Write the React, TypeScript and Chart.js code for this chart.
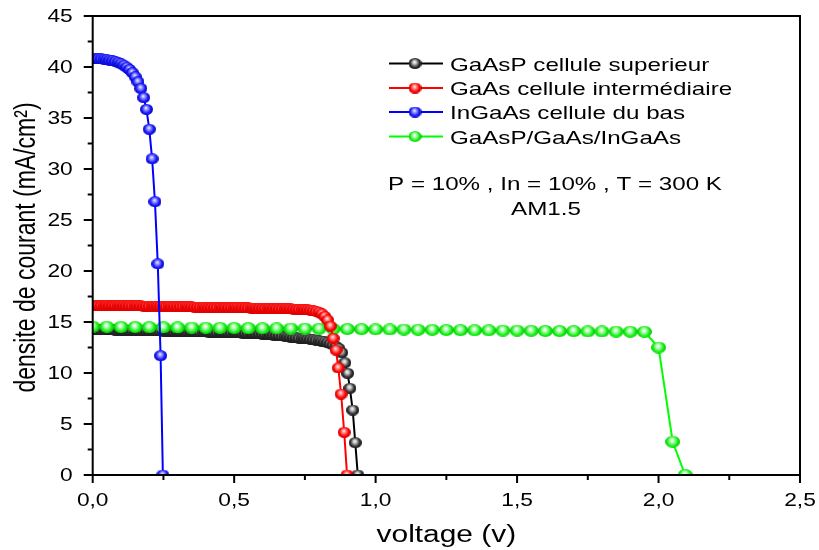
import { useEffect, useRef } from 'react';
import { Chart, registerables } from 'chart.js';

Chart.register(...registerables);

// Voltage sweep grid of the dense cell curves (V) and of the tandem curve.
const SWEEP_STEP = 0.01;
const TANDEM_STEP = 0.05;

// GaAsP top cell: current density (mA/cm²) from 0 V in 0.01 V steps, then the knee.
const gaaspFlat = [
  14.25, 14.25, 14.24, 14.24, 14.23, 14.23, 14.22, 14.22, 14.21, 14.21,
  14.2, 14.19, 14.19, 14.18, 14.18, 14.17, 14.16, 14.16, 14.15, 14.15,
  14.14, 14.13, 14.13, 14.12, 14.12, 14.11, 14.1, 14.1, 14.09, 14.09,
  14.08, 14.07, 14.07, 14.06, 14.06, 14.05, 14.04, 14.04, 14.03, 14.03,
  14.02, 14.01, 14.01, 14.0, 13.99, 13.99, 13.98, 13.97, 13.96, 13.96,
  13.95, 13.94, 13.93, 13.92, 13.91, 13.9, 13.88, 13.87, 13.85, 13.84,
  13.82, 13.8, 13.78, 13.75, 13.72, 13.69, 13.66, 13.63, 13.59, 13.56,
  13.52, 13.49, 13.46, 13.43, 13.4, 13.37, 13.34, 13.31, 13.27, 13.23,
  13.18, 13.12, 13.05, 12.97, 12.88, 12.76, 12.6, 12.4,
];
const gaaspTailV = [0.88, 0.891, 0.901, 0.909, 0.919, 0.928, 0.937];
const gaaspTailJ = [12.0, 11.0, 9.97, 8.5, 6.37, 3.17, 0];

// GaAs middle cell.
const gaasFlat = [
  16.65, 16.65, 16.64, 16.64, 16.63, 16.63, 16.62, 16.62, 16.61, 16.61,
  16.6, 16.6, 16.59, 16.59, 16.58, 16.58, 16.57, 16.57, 16.56, 16.56,
  16.55, 16.55, 16.54, 16.54, 16.53, 16.53, 16.52, 16.52, 16.51, 16.51,
  16.5, 16.5, 16.49, 16.49, 16.48, 16.48, 16.47, 16.47, 16.46, 16.46,
  16.45, 16.45, 16.44, 16.44, 16.43, 16.43, 16.42, 16.42, 16.41, 16.41,
  16.4, 16.4, 16.39, 16.39, 16.38, 16.38, 16.37, 16.37, 16.36, 16.36,
  16.35, 16.34, 16.34, 16.33, 16.33, 16.32, 16.31, 16.31, 16.3, 16.29,
  16.28, 16.27, 16.26, 16.25, 16.24, 16.22, 16.2, 16.17, 16.12, 16.05,
  15.95, 15.8, 15.55, 15.2, 14.6,
];
const gaasTailV = [0.85, 0.86, 0.868, 0.878, 0.889, 0.899];
const gaasTailJ = [13.4, 12.25, 10.5, 7.94, 4.19, 0];

// InGaAs bottom cell.
const ingaasFlat = [
  40.85, 40.84, 40.82, 40.8, 40.77, 40.73, 40.68, 40.62, 40.55, 40.45,
  40.32, 40.17, 39.98, 39.75, 39.45, 39.05, 38.55, 37.9, 37.0, 35.85,
  33.9, 31.0, 26.8, 20.7, 11.7,
];
const ingaasTailV = [0.248];
const ingaasTailJ = [0];

// GaAsP/GaAs/InGaAs tandem, 0.05 V steps.
const tandemFlat = [
  14.55, 14.54, 14.52, 14.51, 14.5, 14.48, 14.47, 14.46, 14.44, 14.43,
  14.42, 14.4, 14.39, 14.38, 14.36, 14.35, 14.34, 14.32, 14.31, 14.3,
  14.28, 14.27, 14.26, 14.24, 14.23, 14.22, 14.2, 14.19, 14.18, 14.16,
  14.15, 14.14, 14.12, 14.11, 14.1, 14.08, 14.07, 14.06, 14.05, 14.04,
];
const tandemTailV = [2.0, 2.05, 2.094];
const tandemTailJ = [12.5, 3.26, 0];

const SERIES_LABELS = [
  'GaAsP cellule superieur',
  'GaAs cellule intermédiaire',
  'InGaAs cellule du bas',
  'GaAsP/GaAs/InGaAs',
];

const X_TICKS = [0, 0.5, 1, 1.5, 2, 2.5];
const X_TICK_LABELS = ['0,0', '0,5', '1,0', '1,5', '2,0', '2,5'];
const Y_TICKS = [0, 5, 10, 15, 20, 25, 30, 35, 40, 45];
const Y_TICK_LABELS = ['0', '5', '10', '15', '20', '25', '30', '35', '40', '45'];

const X_TITLE = 'voltage (v)';
const Y_TITLE = 'densite de courant (mA/cm²)';
const NOTE_LINES = ['P = 10% , In = 10% , T = 300 K', 'AM1.5'];

const FONT = '"Liberation Sans", Arial, sans-serif';
const STRETCH = 1.3;

function sweep(values: number[], step: number, tailV: number[], tailJ: number[]) {
  const pts = values.map((y, i) => ({ x: Math.round(i * step * 1000) / 1000, y }));
  tailV.forEach((x, i) => pts.push({ x, y: tailJ[i] }));
  return pts;
}

function makeBall(w: number, h: number, light: string, base: string, dark: string) {
  const c = document.createElement('canvas');
  c.width = w;
  c.height = h;
  const g = c.getContext('2d')!;
  const grad = g.createRadialGradient(w * 0.46, h * 0.36, 0, w * 0.5, h * 0.5, w * 0.58);
  grad.addColorStop(0, '#ffffff');
  grad.addColorStop(0.2, light);
  grad.addColorStop(0.6, base);
  grad.addColorStop(1, dark);
  g.fillStyle = grad;
  g.beginPath();
  g.ellipse(w / 2, h / 2, w / 2, h / 2, 0, 0, Math.PI * 2);
  g.fill();
  return c;
}

function text(
  ctx: CanvasRenderingContext2D,
  s: string,
  x: number,
  y: number,
  size: number,
  align: CanvasTextAlign,
  rotate = false,
) {
  ctx.save();
  ctx.translate(x, y);
  ctx.scale(STRETCH, 1);
  if (rotate) ctx.rotate(-Math.PI / 2);
  ctx.font = `${size}px ${FONT}`;
  ctx.textAlign = align;
  ctx.textBaseline = 'alphabetic';
  ctx.fillStyle = '#000';
  ctx.fillText(s, 0, 0);
  ctx.restore();
}

export default function App() {
  const ref = useRef<HTMLCanvasElement>(null);

  useEffect(() => {
    if (!ref.current) return;

    const colors = [
      { line: '#000000', ball: makeBall(13, 11, '#d0d0d0', '#303030', '#000000') },
      { line: '#ff0000', ball: makeBall(13, 11, '#ffa0a0', '#ff0000', '#a00000') },
      { line: '#0000ff', ball: makeBall(13, 11, '#a8a8ff', '#1414ff', '#000090') },
      { line: '#00ff00', ball: makeBall(15, 12, '#c8ffc8', '#14f014', '#00a800') },
    ];

    const seriesData = [
      sweep(gaaspFlat, SWEEP_STEP, gaaspTailV, gaaspTailJ),
      sweep(gaasFlat, SWEEP_STEP, gaasTailV, gaasTailJ),
      sweep(ingaasFlat, SWEEP_STEP, ingaasTailV, ingaasTailJ),
      sweep(tandemFlat, TANDEM_STEP, tandemTailV, tandemTailJ),
    ];
    // Stacking: InGaAs on top, then GaAs, tandem, GaAsP at the bottom.
    const stacking = [3, 1, 0, 2];

    const decorations = {
      id: 'decorations',
      afterDraw(chart: any) {
        const ctx: CanvasRenderingContext2D = chart.ctx;
        const { left, right, top, bottom } = chart.chartArea;
        const xs = chart.scales.x;
        const ys = chart.scales.y;
        ctx.save();
        ctx.strokeStyle = '#000';
        ctx.lineWidth = 2;
        ctx.lineCap = 'butt';

        // minor + major ticks, pointing outward
        for (let i = 0; i < Y_TICKS.length; i++) {
          const v = Y_TICKS[i];
          const py = ys.getPixelForValue(v);
          ctx.beginPath();
          ctx.moveTo(left - 9, py);
          ctx.lineTo(left, py);
          ctx.stroke();
          if (i < Y_TICKS.length - 1) {
            const pm = ys.getPixelForValue((v + Y_TICKS[i + 1]) / 2);
            ctx.beginPath();
            ctx.moveTo(left - 5, pm);
            ctx.lineTo(left, pm);
            ctx.stroke();
          }
          text(ctx, Y_TICK_LABELS[i], left - 20, py + 6.3, 17.5, 'right');
        }
        for (let i = 0; i < X_TICKS.length; i++) {
          const v = X_TICKS[i];
          const px = xs.getPixelForValue(v);
          ctx.beginPath();
          ctx.moveTo(px, bottom);
          ctx.lineTo(px, bottom + 8);
          ctx.stroke();
          if (i < X_TICKS.length - 1) {
            const pm = xs.getPixelForValue((v + X_TICKS[i + 1]) / 2);
            ctx.beginPath();
            ctx.moveTo(pm, bottom);
            ctx.lineTo(pm, bottom + 5);
            ctx.stroke();
          }
          text(ctx, X_TICK_LABELS[i], px, bottom + 30.7, 17.5, 'center');
        }

        // frame
        ctx.strokeRect(left, top, right - left, bottom - top);

        // axis titles
        text(ctx, X_TITLE, (left + right) / 2, 542, 23, 'center');
        text(ctx, Y_TITLE, 35, (top + bottom) / 2 + 2, 23, 'center', true);

        // legend
        const rowBase = [70.5, 95, 119, 143.5];
        for (let i = 0; i < SERIES_LABELS.length; i++) {
          const cy = rowBase[i] - 7;
          ctx.strokeStyle = colors[i].line;
          ctx.lineWidth = 2;
          ctx.beginPath();
          ctx.moveTo(389, cy);
          ctx.lineTo(443, cy);
          ctx.stroke();
          const b = colors[i].ball;
          ctx.drawImage(b, 415 - 6.5, cy - 5.5, 13, 11);
          text(ctx, SERIES_LABELS[i], 450, rowBase[i], 18.6, 'left');
        }

        // simulation conditions
        text(ctx, NOTE_LINES[0], 555, 190, 18.6, 'center');
        text(ctx, NOTE_LINES[1], 546, 215, 18.6, 'center');
        ctx.restore();
      },
    };

    const chart = new Chart(ref.current, {
      type: 'line',
      data: {
        datasets: seriesData.map((d, i) => ({
          label: SERIES_LABELS[i],
          data: d,
          borderColor: colors[i].line,
          backgroundColor: colors[i].line,
          borderWidth: 2,
          tension: 0,
          pointStyle: colors[i].ball as any,
          pointRadius: 6,
          order: stacking[i],
        })),
      },
      options: {
        responsive: false,
        animation: false,
        devicePixelRatio: 1,
        layout: { padding: { left: 0, top: 16, right: 19, bottom: 0 } },
        plugins: { legend: { display: false }, tooltip: { enabled: false } },
        scales: {
          x: {
            type: 'linear',
            min: 0,
            max: 2.5,
            ticks: { display: false },
            grid: { display: false },
            border: { display: false },
            afterFit: (s: any) => {
              s.height = 75;
            },
          },
          y: {
            type: 'linear',
            min: 0,
            max: 45,
            ticks: { display: false },
            grid: { display: false },
            border: { display: false },
            afterFit: (s: any) => {
              s.width = 92.7;
            },
          },
        },
      },
      plugins: [decorations],
    } as any);

    return () => chart.destroy();
  }, []);

  return (
    <canvas
      ref={ref}
      width={819}
      height={550}
      style={{ position: 'absolute', left: 0, top: 0, width: 819, height: 550, background: '#fff' }}
    />
  );
}
